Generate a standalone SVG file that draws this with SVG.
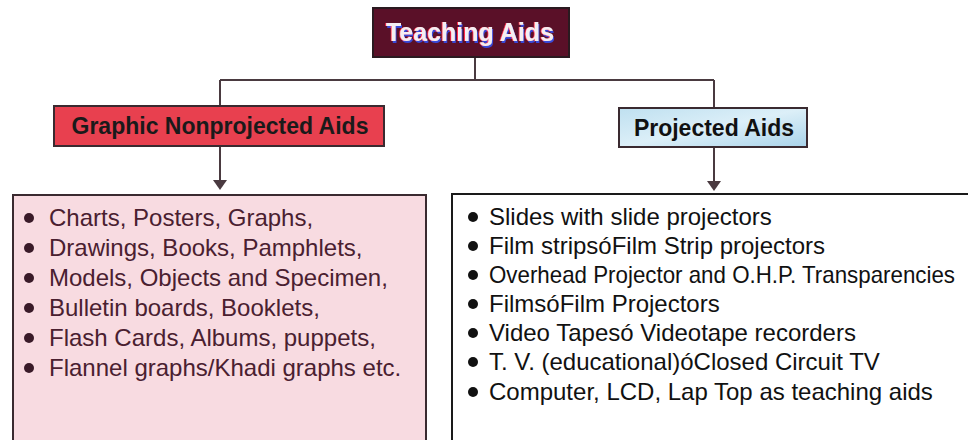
<svg xmlns="http://www.w3.org/2000/svg" width="968" height="440" viewBox="0 0 968 440">
<defs>
<style>
.hdr{font-family:"Liberation Sans",Arial,sans-serif;font-weight:bold;}
.li{font-family:"Liberation Sans",Arial,sans-serif;font-size:24px;}
.ln{stroke:#4a3a40;stroke-width:2;fill:none;}
</style>
<filter id="ghost" x="-10%" y="-20%" width="120%" height="150%">
<feFlood flood-color="#ff2a50" result="r"/>
<feComposite in="r" in2="SourceAlpha" operator="in" result="rs"/>
<feOffset in="rs" dx="-1.5" dy="-0.5" result="ro"/>
<feFlood flood-color="#3848d8" result="b"/>
<feComposite in="b" in2="SourceAlpha" operator="in" result="bs"/>
<feOffset in="bs" dx="1" dy="2" result="bo"/>
<feMerge><feMergeNode in="bo"/><feMergeNode in="ro"/><feMergeNode in="SourceGraphic"/></feMerge>
</filter>
<linearGradient id="blue" x1="0" y1="0" x2="1" y2="1">
<stop offset="0" stop-color="#bfe0f0"/><stop offset="0.5" stop-color="#dcefF8"/><stop offset="1" stop-color="#a9d3ea"/>
</linearGradient>
</defs>
<rect width="968" height="440" fill="#ffffff"/>
<g id="connectors">
<path class="ln" d="M475,57 V80 M220,80 H714 M220,80 V106 M714,80 V108"/>
<path class="ln" d="M220,146 V181"/>
<path class="ln" d="M714,147 V182"/>
<path d="M213,180 L227,180 L220,190 Z" fill="#4a3a40"/>
<path d="M707,181 L721,181 L714,191 Z" fill="#4a3a40"/>
</g>
<g id="teaching-aids">
<rect x="373" y="8" width="196" height="49" fill="#5a1028" stroke="#2a1a20" stroke-width="2"/>
<text class="hdr" x="470" y="41" font-size="25" text-anchor="middle" fill="#f4eef2" filter="url(#ghost)">Teaching Aids</text>
</g>
<g id="graphic-nonprojected">
<rect x="54" y="106" width="330" height="40" fill="#e8404f" stroke="#3a2a30" stroke-width="2"/>
<text class="hdr" x="220" y="134" font-size="23" text-anchor="middle" fill="#1a1a1a">Graphic Nonprojected Aids</text>
</g>
<g id="projected">
<rect x="619" y="108" width="188" height="39" fill="url(#blue)" stroke="#3a2a30" stroke-width="2"/>
<text class="hdr" x="714" y="136" font-size="23" text-anchor="middle" fill="#111111">Projected Aids</text>
</g>
<g id="graphic-list">
<rect x="13" y="195" width="413" height="260" fill="#f8dbe1" stroke="#3a2a30" stroke-width="2"/>
<g fill="#3a1a28">
<circle cx="29" cy="218" r="5"/><circle cx="29" cy="248" r="5"/><circle cx="29" cy="278" r="5"/>
<circle cx="29" cy="308" r="5"/><circle cx="29" cy="338" r="5"/><circle cx="29" cy="368" r="5"/>
</g>
<g class="li" fill="#4a2030">
<text x="49" y="226">Charts, Posters, Graphs,</text>
<text x="49" y="256">Drawings, Books, Pamphlets,</text>
<text x="49" y="286">Models, Objects and Specimen,</text>
<text x="49" y="316">Bulletin boards, Booklets,</text>
<text x="49" y="346">Flash Cards, Albums, puppets,</text>
<text x="49" y="376">Flannel graphs/Khadi graphs etc.</text>
</g>
</g>
<g id="projected-list">
<rect x="452" y="194" width="530" height="260" fill="#ffffff" stroke="#1a1a1a" stroke-width="2"/>
<g fill="#111111">
<circle cx="473" cy="217" r="5"/><circle cx="473" cy="246" r="5"/><circle cx="473" cy="275" r="5"/>
<circle cx="473" cy="304" r="5"/><circle cx="473" cy="333" r="5"/><circle cx="473" cy="362" r="5"/><circle cx="473" cy="392" r="5"/>
</g>
<g class="li" fill="#111111">
<text x="489" y="225">Slides with slide projectors</text>
<text x="489" y="254">Film stripsóFilm Strip projectors</text>
<text x="489" y="283" textLength="466" lengthAdjust="spacingAndGlyphs">Overhead Projector and O.H.P. Transparencies</text>
<text x="489" y="312">FilmsóFilm Projectors</text>
<text x="489" y="341">Video Tapesó Videotape recorders</text>
<text x="489" y="370">T. V. (educational)óClosed Circuit TV</text>
<text x="489" y="400">Computer, LCD, Lap Top as teaching aids</text>
</g>
</g>
</svg>
